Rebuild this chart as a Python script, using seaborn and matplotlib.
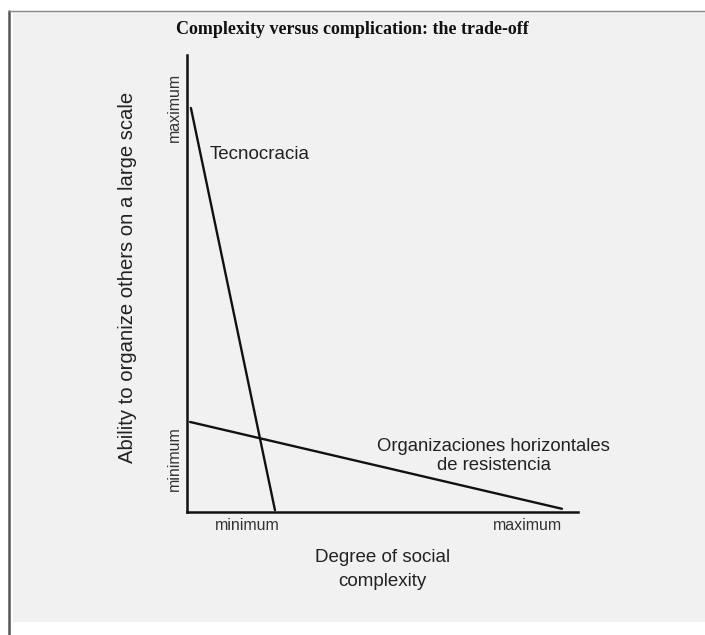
import matplotlib
matplotlib.use("Agg")
import matplotlib.pyplot as plt
import seaborn as sns
import pandas as pd
from matplotlib.patches import Rectangle
from matplotlib.lines import Line2D

# values (0..10 on both axes)
tecno_x = [0.10, 2.25]
tecno_y = [8.84, 0.04]
horiz_x = [0.08, 9.59]
horiz_y = [1.97, 0.07]
xtick_pos = [1.53, 8.72]
ytick_pos = [1.16, 8.86]
tick_labels = ["minimum", "maximum"]

title = "Complexity versus complication: the trade-off"
xlabel = "Degree of social\ncomplexity"
ylabel = "Ability to organize others on a large scale"
tecno_label = "Tecnocracia"
horiz_label = "Organizaciones horizontales\nde resistencia"

data = pd.DataFrame({
    "x": tecno_x + horiz_x,
    "y": tecno_y + horiz_y,
    "line": ["tecno"] * 2 + ["horiz"] * 2,
})

sns.set_theme(style="white")
sans = ["Liberation Sans", "DejaVu Sans"]
plt.rcParams["font.family"] = sans

fig = plt.figure(figsize=(7.05, 6.35), dpi=100)
W, H = 705, 635

# scanned page: grey panel with a dark border on the left and top
fig.patches.append(Rectangle((13 / W, 1 - 622 / H), 692 / W, 611 / H,
                             transform=fig.transFigure, facecolor="#f1f1f1",
                             edgecolor="none", zorder=-5))
fig.lines.append(Line2D([9 / W, 9 / W], [0, 1 - 11 / H], transform=fig.transFigure,
                        color="#555555", lw=1.8, zorder=-4))
fig.lines.append(Line2D([9 / W, 1], [1 - 11 / H, 1 - 11 / H], transform=fig.transFigure,
                        color="#888888", lw=1.0, zorder=-4))

ax = fig.add_axes([187 / W, 1 - 512 / H, 391 / W, 457 / H])
ax.set_facecolor("none")
sns.lineplot(data=data, x="x", y="y", hue="line", units="line", estimator=None,
             sort=False, palette=["#111111", "#111111"], linewidth=1.7,
             legend=False, ax=ax)

ax.set_xlim(0, 10)
ax.set_ylim(0, 10)
for s in ["top", "right"]:
    ax.spines[s].set_visible(False)
for s in ["left", "bottom"]:
    ax.spines[s].set_color("#111111")
    ax.spines[s].set_linewidth(1.8)

ax.set_xticks(xtick_pos)
ax.set_xticklabels(tick_labels, fontsize=11.5, color="#333333")
ax.set_yticks(ytick_pos)
ax.set_yticklabels(tick_labels, fontsize=11.5, color="#333333",
                   rotation=90, va="center")
ax.tick_params(axis="both", length=0, pad=4)

ax.set_xlabel(xlabel, fontsize=13.5, color="#222222", linespacing=1.5)
ax.xaxis.set_label_coords(0.5, -0.082)
ax.xaxis.label.set_va("top")
ax.set_ylabel(ylabel, fontsize=14.6, color="#222222")
ax.yaxis.set_label_coords(-0.151, 0.514)
ax.yaxis.label.set_va("center")

ax.text(0.59, 7.83, tecno_label, fontsize=13.5, color="#222222", va="center", ha="left")
ax.text(7.85, 1.23, horiz_label, fontsize=13.3, color="#222222", va="center",
        ha="center", linespacing=1.15)

fig.text(352 / W, 1 - 29 / H, title, family=["Liberation Serif", "DejaVu Serif"],
         fontweight="bold", fontsize=13, color="#111111", ha="center", va="center")

fig.savefig("out.png", dpi=100)
